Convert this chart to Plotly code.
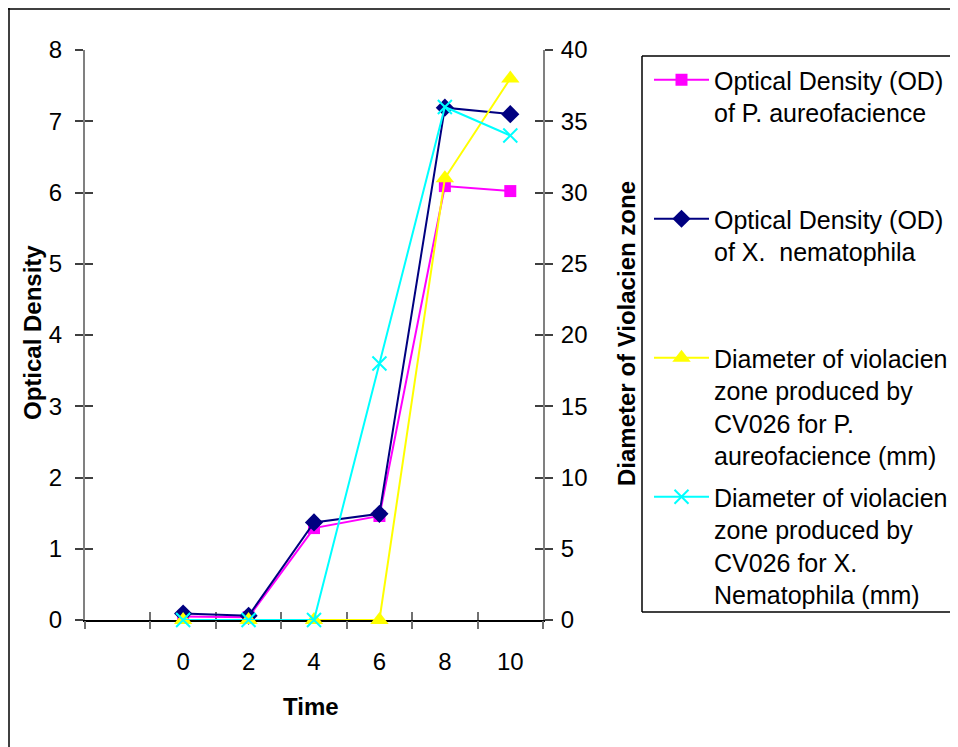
import plotly.graph_objects as go

# ---- data ----
time = [0, 2, 4, 6, 8, 10]
od_p_aureofacience = [0.05, 0.04, 1.29, 1.46, 6.09, 6.02]
od_x_nematophila = [0.09, 0.06, 1.37, 1.49, 7.19, 7.10]
dia_p_aureofacience = [0, 0, 0, 0, 31, 38]
dia_x_nematophila = [0, 0, 0, 18, 36, 34]
category_bounds = [-3, -1, 1, 3, 5, 7, 9, 11]   # category boundaries (one blank category before 0)

names = [
    "Optical Density (OD)<br>of P. aureofacience<br>\u00a0<br>\u00a0",
    "Optical Density (OD)<br>of X.  nematophila<br>\u00a0<br>\u00a0",
    "Diameter of violacien<br>zone produced by<br>CV026 for P.<br>aureofacience (mm)",
    "Diameter of violacien<br>zone produced by<br>CV026 for X.<br>Nematophila (mm)",
]

FONT = "Arial, Liberation Sans, sans-serif"
W, H = 958, 747
L, R, T, B = 77, 535, 42, 612  # plot area in figure pixels


def px(x):
    return (x - L) / (R - L)


def py(y):
    return (B - y) / (B - T)


fig = go.Figure()
fig.add_trace(go.Scatter(x=time, y=od_p_aureofacience, name=names[0], mode="lines+markers",
                         line=dict(color="#FF00FF", width=2),
                         marker=dict(symbol="square", size=12, color="#FF00FF"),
                         legendgroup="a", cliponaxis=False))
fig.add_trace(go.Scatter(x=time, y=od_x_nematophila, name=names[1], mode="lines+markers",
                         line=dict(color="#000080", width=2),
                         marker=dict(symbol="diamond", size=14, color="#000080"),
                         legendgroup="b", cliponaxis=False))
fig.add_trace(go.Scatter(x=time, y=dia_p_aureofacience, name=names[2], mode="lines+markers",
                         yaxis="y2", line=dict(color="#FFFF00", width=2),
                         marker=dict(symbol="triangle-up", size=16, color="#FFFF00"),
                         legendgroup="c", cliponaxis=False))
fig.add_trace(go.Scatter(x=time, y=dia_x_nematophila, name=names[3], mode="lines+markers",
                         yaxis="y2", line=dict(color="#00FFFF", width=2),
                         marker=dict(symbol="x-thin-open", size=14,
                                     line=dict(color="#00FFFF", width=2)),
                         legendgroup="d", cliponaxis=False))

# empty helper traces so overlay axes (for crossing ticks) are drawn
for xa, ya in [("x", "y3"), ("x", "y4"), ("x2", "y"), ("x3", "y")]:
    fig.add_trace(go.Scatter(x=[], y=[], xaxis=xa, yaxis=ya, showlegend=False, hoverinfo="skip"))

tickfont = dict(family=FONT, size=24, color="black")


def hline(x0, x1, y):
    return dict(type="line", xref="paper", yref="paper", x0=px(x0), x1=px(x1),
                y0=py(y), y1=py(y), line=dict(color="black", width=1.5))


def vline(x, y0, y1):
    return dict(type="line", xref="paper", yref="paper", x0=px(x), x1=px(x),
                y0=py(y0), y1=py(y1), line=dict(color="black", width=1.5))


fig.update_layout(
    width=W, height=H,
    margin=dict(l=L, r=W - R, t=T, b=H - B),
    paper_bgcolor="white", plot_bgcolor="white",
    font=dict(family=FONT, color="black"),
    showlegend=True,
    xaxis=dict(range=[-3, 11], tickvals=time, ticktext=[str(t) for t in time],
               ticks="outside", ticklen=19, tickcolor="rgba(0,0,0,0)",
               showline=True, linecolor="black", linewidth=1.5, layer="below traces",
               showgrid=False, zeroline=False, tickfont=tickfont, fixedrange=True),
    xaxis2=dict(range=[-3, 11], overlaying="x", anchor="y", side="bottom",
                tickvals=category_bounds, ticks="outside", ticklen=8, tickwidth=1.5,
                tickcolor="#707070", showticklabels=False, showline=False,
                layer="below traces", showgrid=False, zeroline=False),
    xaxis3=dict(range=[-3, 11], overlaying="x", anchor="y", side="bottom",
                tickvals=category_bounds, ticks="inside", ticklen=8, tickwidth=1.5,
                tickcolor="#707070", showticklabels=False, showline=False,
                layer="below traces", showgrid=False, zeroline=False),
    yaxis=dict(range=[0, 8], dtick=1, tick0=0, ticks="outside", ticklen=8, tickwidth=1.5,
               tickcolor="#404040", showline=True, linecolor="#808080", linewidth=2,
               showgrid=False, zeroline=False, tickfont=tickfont, ticklabelstandoff=8),
    yaxis2=dict(range=[0, 40], dtick=5, tick0=0, overlaying="y", side="right", anchor="x",
                ticks="outside", ticklen=8, tickwidth=1.5, tickcolor="#404040",
                showline=True, linecolor="#808080", linewidth=2,
                showgrid=False, zeroline=False, tickfont=tickfont, ticklabelstandoff=3),
    yaxis3=dict(range=[0, 8], dtick=1, tick0=0, overlaying="y", side="left", anchor="x",
                ticks="inside", ticklen=8, tickwidth=1.5, tickcolor="#404040",
                showticklabels=False, showline=False, showgrid=False, zeroline=False),
    yaxis4=dict(range=[0, 40], dtick=5, tick0=0, overlaying="y", side="right", anchor="x",
                ticks="inside", ticklen=8, tickwidth=1.5, tickcolor="#404040",
                showticklabels=False, showline=False, showgrid=False, zeroline=False),
    legend=dict(x=px(641), y=py(49), xanchor="left", yanchor="top",
                bgcolor="rgba(0,0,0,0)", borderwidth=0, valign="top",
                font=dict(family=FONT, size=25, color="black"),
                itemwidth=55, tracegroupgap=6, traceorder="grouped"),
    shapes=[
        # outer chart frame (figure edge: left and top visible)
        hline(0, W + 30, 1),
        vline(1, 0, H + 30),
        # legend box (right side runs off the picture)
        hline(634, W + 30, 48),
        hline(634, W + 30, 604),
        vline(634, 48, 604),
    ],
    annotations=[
        dict(text="<b>Optical Density</b>", xref="paper", yref="paper", x=px(24), y=py(325),
             textangle=-90, showarrow=False, xanchor="center", yanchor="middle",
             font=dict(family=FONT, size=24, color="black")),
        dict(text="<b>Diameter of Violacien zone</b>", xref="paper", yref="paper",
             x=px(618), y=py(326), textangle=-90, showarrow=False,
             xanchor="center", yanchor="middle",
             font=dict(family=FONT, size=24, color="black")),
        dict(text="<b>Time</b>", xref="paper", yref="paper", x=px(303), y=py(698),
             showarrow=False, xanchor="center", yanchor="middle",
             font=dict(family=FONT, size=24, color="black")),
    ],
)

fig.write_html("out.html")
